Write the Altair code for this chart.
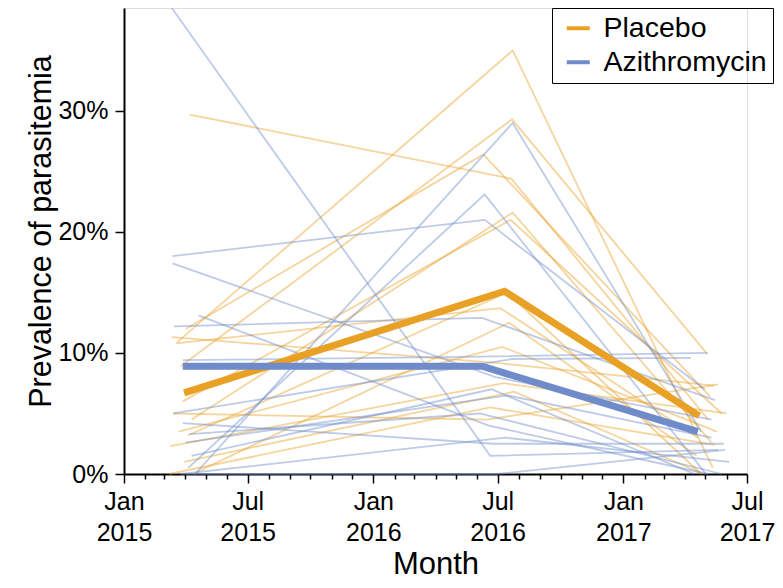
import altair as alt
import pandas as pd

groups = ["Placebo", "Azithromycin"]
ORANGE = "#E8A025"
BLUE = "#6F8BC9"

# ---- Placebo communities (thin lines) ----
placebo_start_dates = ["2015-04-07", "2015-03-20", "2015-03-25", "2015-04-02", "2015-04-10",
                       "2015-03-28", "2015-03-12", "2015-03-18", "2015-04-05", "2015-03-10",
                       "2015-03-08", "2015-04-12", "2015-03-14", "2015-03-30", "2015-03-22"]
placebo_mid_dates = ["2016-07-21", "2016-07-23", "2016-07-22", "2016-06-10", "2016-07-23",
                     "2016-07-20", "2016-06-25", "2016-07-05", "2016-07-15", "2016-07-10",
                     "2016-06-20", "2016-07-18", "2016-06-15", "2016-07-25", "2016-07-08"]
placebo_end_dates = ["2017-05-05", "2017-05-12", "2017-05-04", "2017-05-08", "2017-05-10",
                     "2017-05-25", "2017-05-14", "2017-04-20", "2017-04-25", "2017-06-01",
                     "2017-05-15", "2017-04-18", "2017-05-20", "2017-04-28", "2017-05-18"]
placebo_start = [29.7, 10.9, 8.9, 12.0, 4.5, 6.0, 11.3, 10.8, 3.2, 2.3, 0.0, 0.0, 5.0, 1.0, 3.5]
placebo_mid = [24.4, 35.0, 29.3, 26.4, 21.6, 21.0, 9.2, 13.7, 15.0, 7.5, 5.5, 12.5, 4.5, 6.8, 10.5]
placebo_end = [4.5, 0.5, 9.9, 6.4, 2.6, 5.0, 7.3, 3.0, 0.0, 5.0, 2.4, 1.5, 7.4, 0.0, 3.5]

# ---- Azithromycin communities (thin lines) ----
azithro_start_dates = ["2015-03-12", "2015-03-13", "2015-03-13", "2015-04-20", "2015-03-15",
                       "2015-04-15", "2015-04-05", "2015-03-28", "2015-03-14", "2015-03-28",
                       "2015-04-01", "2015-04-07", "2015-04-02", "2015-03-25", "2015-04-10"]
azithro_mid_dates = ["2016-06-20", "2016-06-12", "2016-06-28", "2016-06-18", "2016-06-08",
                     "2016-07-23", "2016-06-12", "2016-06-08", "2016-07-22", "2016-06-25",
                     "2016-07-15", "2016-06-05", "2016-06-30", "2016-07-12", "2016-06-22"]
azithro_end_dates = ["2017-05-20", "2017-04-30", "2017-05-10", "2017-05-05", "2017-05-15",
                     "2017-04-25", "2017-05-02", "2017-05-04", "2017-04-10", "2017-05-28",
                     "2017-05-10", "2017-05-25", "2017-05-30", "2017-06-05", "2017-04-15"]
azithro_start = [38.5, 18.0, 17.4, 13.1, 12.2, 0.0, 0.5, 9.4, 5.0, 4.2, 2.6, 3.3, 0.0, 0.0, 1.5]
azithro_mid = [1.5, 21.0, 8.0, 4.0, 12.9, 29.0, 23.1, 9.7, 9.5, 2.5, 6.5, 5.0, 0.0, 3.0, 7.0]
azithro_end = [2.0, 7.0, 4.5, 0.0, 6.1, 3.5, 0.0, 10.0, 9.6, 2.5, 3.0, 0.0, 2.0, 1.0, 0.0]

# ---- Arm means (thick lines) ----
placebo_mean_dates = ["2015-03-30", "2016-07-11", "2017-04-22"]
placebo_mean = [6.7, 15.1, 4.8]
azithro_mean_dates = ["2015-03-28", "2016-06-08", "2017-04-20"]
azithro_mean = [8.9, 8.9, 3.5]

# ---- axis ticks ----
tick_years = [2015, 2016, 2017]
y_tick_values = [0, 0.1, 0.2, 0.3]

rows = []
for group, prefix, sd, md, ed, sv, mv, ev in [
    ("Placebo", "P", placebo_start_dates, placebo_mid_dates, placebo_end_dates,
     placebo_start, placebo_mid, placebo_end),
    ("Azithromycin", "A", azithro_start_dates, azithro_mid_dates, azithro_end_dates,
     azithro_start, azithro_mid, azithro_end),
]:
    for i in range(len(sd)):
        for d, v in ((sd[i], sv[i]), (md[i], mv[i]), (ed[i], ev[i])):
            rows.append({"community": f"{prefix}{i}", "group": group,
                         "date": d + "T00:00:00", "prev": v / 100})
thin_df = pd.DataFrame(rows)

mean_rows = []
for group, dates, vals in [("Placebo", placebo_mean_dates, placebo_mean),
                           ("Azithromycin", azithro_mean_dates, azithro_mean)]:
    for d, v in zip(dates, vals):
        mean_rows.append({"group": group, "date": d + "T00:00:00", "prev": v / 100})
mean_df = pd.DataFrame(mean_rows)

month_ticks = [alt.DateTime(year=y, month=m, date=1)
               for y in tick_years for m in range(1, 13)
               if not (y == 2017 and m > 7)]

FONT = "Liberation Sans"
major = "month(datum.value) % 6 == 0"
PLOT_W = 623

x_enc = alt.X(
    "date:T",
    scale=alt.Scale(domain=[alt.DateTime(year=2015, month=1, date=1),
                            alt.DateTime(year=2017, month=7, date=1)]),
    axis=alt.Axis(
        title="Month", titleFontSize=31, titleFontWeight="normal", titleColor="black",
        titleFont=FONT, titleX=PLOT_W / 2, titleY=99, titleBaseline="alphabetic",
        titleAlign="center",
        values=month_ticks,
        labelExpr=f"{major} ? [timeFormat(datum.value, '%b'), timeFormat(datum.value, '%Y')] : ''",
        labelOverlap=False, labelFlush=False, labelFontSize=25, labelColor="black",
        labelFont=FONT, labelLineHeight=31, labelPadding=6,
        tickSize={"condition": {"test": major, "value": 9}, "value": 5},
        tickColor="black", tickWidth=1.5, domainColor="black", domainWidth=2, grid=False,
    ),
)
y_enc = alt.Y(
    "prev:Q",
    scale=alt.Scale(domain=[0, 0.385], nice=False, zero=True),
    axis=alt.Axis(
        values=y_tick_values, format=".0%", title="Prevalence of parasitemia",
        titleFontSize=30.5, titleFontWeight="normal", titleColor="black", titleFont=FONT,
        titleX=-74, titleY=223, titleAngle=270, titleBaseline="alphabetic", titleAlign="center",
        labelFontSize=25, labelColor="black", labelFont=FONT, labelPadding=7,
        tickSize=9, tickColor="black", tickWidth=1.5, domainColor="black", domainWidth=2,
        grid=False,
    ),
)
color_scale = alt.Scale(domain=groups, range=[ORANGE, BLUE])
color_enc = alt.Color(
    "group:N", scale=color_scale, sort=groups,
    legend=alt.Legend(title=None, orient="none", legendX=428, legendY=0,
                      symbolType="stroke", symbolSize=529, symbolOffset=6,
                      symbolStrokeWidth=4, symbolOpacity=1,
                      labelFontSize=28.5, labelFont=FONT, labelColor="black",
                      labelLimit=400, labelOffset=11, padding=6, rowPadding=5,
                      strokeColor="black"),
)

thin = alt.Chart(thin_df).mark_line(strokeWidth=1.8, opacity=0.45).encode(
    x=x_enc, y=y_enc, color=color_enc, detail="community:N",
)
mean_az = alt.Chart(mean_df[mean_df.group == "Azithromycin"]).mark_line(strokeWidth=7).encode(
    x=x_enc, y=y_enc, color=color_enc
)
mean_pl = alt.Chart(mean_df[mean_df.group == "Placebo"]).mark_line(strokeWidth=7).encode(
    x=x_enc, y=y_enc, color=color_enc
)

chart = alt.layer(thin, mean_pl, mean_az).properties(
    width=PLOT_W, height=466,
    autosize=alt.AutoSizeParams(type="none"),
    padding={"left": 116, "top": 0, "right": 767 - 116 - PLOT_W, "bottom": 106},
).configure_view(strokeWidth=0).configure_axis(grid=False).configure_legend(
    strokeWidth=1.5).configure(font=FONT)

chart.save("out.html", embed_options={"renderer": "svg", "actions": False})
